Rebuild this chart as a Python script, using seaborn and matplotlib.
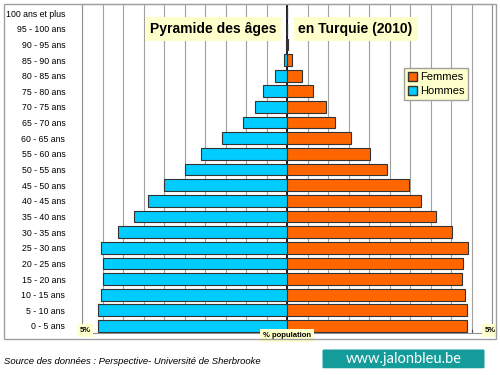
import pandas as pd
import seaborn as sns
import matplotlib.pyplot as plt
from matplotlib.patches import Rectangle, FancyBboxPatch, Patch

# ── data (% of population, Turkey 2010) ──
ages = ['100 ans et plus', '95 - 100 ans', '90 - 95 ans', '85 - 90 ans', '80 - 85 ans',
        '75 - 80 ans', '70 - 75 ans', '65 - 70 ans', '60 - 65 ans', '55 - 60 ans',
        '50 - 55 ans', '45 - 50 ans', '40 - 45 ans', '35 - 40 ans', '30 - 35 ans',
        '25 - 30 ans', '20 - 25 ans', '15 - 20 ans', '10 - 15 ans', '5 - 10 ans', '0 - 5 ans']
hommes = [0.0, 0.01, 0.02, 0.08, 0.29, 0.58, 0.77, 1.08, 1.58, 2.10, 2.50, 2.99,
          3.38, 3.72, 4.11, 4.54, 4.48, 4.48, 4.54, 4.62, 4.60]
femmes = [0.0, 0.01, 0.03, 0.12, 0.37, 0.64, 0.95, 1.18, 1.55, 2.03, 2.45, 2.98,
          3.27, 3.64, 4.03, 4.41, 4.29, 4.28, 4.33, 4.38, 4.38]

df = pd.concat([
    pd.DataFrame({'age': ages, 'sexe': 'Hommes', 'pct': [-v for v in hommes]}),
    pd.DataFrame({'age': ages, 'sexe': 'Femmes', 'pct': femmes}),
])

c_h = '#00CCFF'
c_f = '#FF6600'
yellow = '#FFFFCC'
plt.rcParams['font.family'] = ['Liberation Sans', 'DejaVu Sans']

fig = plt.figure(figsize=(5, 3.75), dpi=100)
ax = fig.add_axes([0.164, 0.112, 0.82, 0.877])

sns.barplot(data=df, x='pct', y='age', hue='sexe', order=ages,
            hue_order=['Hommes', 'Femmes'], palette={'Hommes': c_h, 'Femmes': c_f},
            saturation=1, dodge=False, width=0.75, orient='h', edgecolor='#333333',
            linewidth=0.8, legend=False, ax=ax, zorder=3)

ax.set_xlim(-5, 5)
ax.set_ylim(20.45, -0.575)
ax.set_xticks([i * 0.5 for i in range(-10, 11)])
ax.set_xticklabels([])
ax.grid(axis='x', color='#A0A0A0', linewidth=0.8, zorder=0)
ax.set_axisbelow(True)
ax.axvline(0, color='black', linewidth=1.2, zorder=2)
ax.tick_params(axis='x', direction='in', length=3, color='#555555')
ax.tick_params(axis='y', length=0, pad=12, labelsize=6.3)
ax.set_xlabel('')
ax.set_ylabel('')
for s in ax.spines.values():
    s.set_color('#909090')
    s.set_linewidth(0.8)

# title boxes
box = dict(boxstyle='square,pad=0.35', fc=yellow, ec='none')
ax.text(-0.26, 1.0, 'Pyramide des âges', ha='right', va='center', fontsize=10,
        fontweight='bold', bbox=box, zorder=5)
ax.text(0.28, 1.0, 'en Turquie (2010)', ha='left', va='center', fontsize=10,
        fontweight='bold', bbox=box, zorder=5)

# axis annotations
small = dict(boxstyle='square,pad=0.35', fc=yellow, ec='none')
ax.text(-4.93, 20.3, '5%', ha='center', va='center', fontsize=5.5, fontweight='bold',
        bbox=small, clip_on=False, zorder=6)
ax.text(4.95, 20.3, '5%', ha='center', va='center', fontsize=5.5, fontweight='bold',
        bbox=small, clip_on=False, zorder=6)
ax.text(0, 20.62, '% population', ha='center', va='center', fontsize=5.5, fontweight='bold',
        bbox=small, clip_on=False, zorder=6)

handles = [Patch(facecolor=c_f, edgecolor='#333333'), Patch(facecolor=c_h, edgecolor='#333333')]
leg = ax.legend(handles, ['Femmes', 'Hommes'], loc='upper left', bbox_to_anchor=(0.785, 0.805),
                borderaxespad=0, fontsize=8, handlelength=0.8, handleheight=0.8,
                handletextpad=0.3, labelspacing=0.35, borderpad=0.35, fancybox=False,
                framealpha=1)
leg.get_frame().set_facecolor(yellow)
leg.get_frame().set_edgecolor('#A0A0A0')

# outer frame
fig.patches.append(Rectangle((0.008, 0.096), 0.984, 0.893, transform=fig.transFigure,
                             fill=False, edgecolor='#A0A0A0', linewidth=1.0))

fig.text(0.008, 0.035, 'Source des données : Perspective- Université de Sherbrooke',
         fontsize=6.8, style='italic', ha='left', va='center')

fig.patches.append(FancyBboxPatch((0.648, 0.021), 0.318, 0.044, transform=fig.transFigure,
                                  boxstyle='round,pad=0.003', fc='#149C9B', ec='none'))
fig.text(0.807, 0.043, 'www.jalonbleu.be', color='white', fontsize=10.5,
         ha='center', va='center', family='Lato')

fig.savefig('out.png', dpi=100)
